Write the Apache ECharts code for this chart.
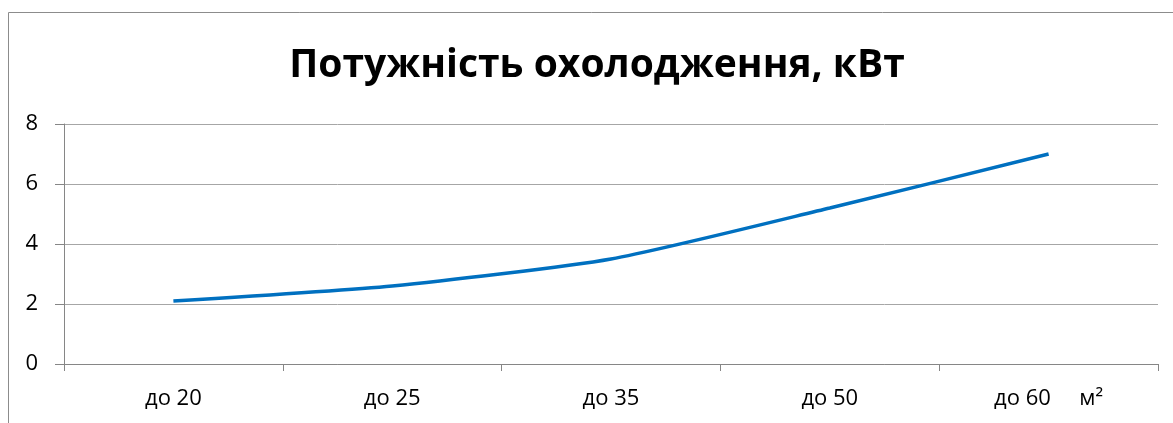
<!DOCTYPE html>
<html>
<head>
<meta charset="utf-8">
<script src="https://cdn.jsdelivr.net/npm/echarts@6/dist/echarts.min.js"></script>
<style>
  html, body { margin: 0; padding: 0; background: #fff; }
  #chart { width: 1173px; height: 423px; }
</style>
</head>
<body>
<div id="chart"></div>
<script>
// дані графіка
const categories = ['до 20', 'до 25', 'до 35', 'до 50', 'до 60'];
const power = [2.1, 2.6, 3.5, 5.2, 7.0];
const titleText = 'Потужність охолодження, кВт';
const unitText = 'м²';

const font = '"Open Sans", "Liberation Sans", sans-serif';
const chart = echarts.init(document.getElementById('chart'));

chart.setOption({
    animation: false,
    title: {
        text: titleText,
        left: 592,
        top: 41,
        textAlign: 'center',
        textStyle: { fontFamily: font, fontSize: 39, fontWeight: 'bold', color: '#000' }
    },
    graphic: [
        {
            type: 'rect',
            shape: { x: 8.5, y: 12.5, width: 1200, height: 450 },
            style: { fill: 'none', stroke: '#8c8c8c', lineWidth: 1 },
            silent: true
        }
    ],
    grid: { left: 64, right: 15, top: 124, bottom: 59 },
    xAxis: {
        type: 'category',
        data: categories,
        boundaryGap: true,
        axisLine: { lineStyle: { color: '#868686', width: 1 } },
        axisTick: { show: true, length: 7, lineStyle: { color: '#868686' } },
        axisLabel: {
            fontFamily: font, fontSize: 22, color: '#000', margin: 24,
            // одиниця виміру стоїть у підписі останньої категорії
            formatter: (v, i) => i === categories.length - 1 ? v + '     ' + unitText : v
        }
    },
    yAxis: {
        type: 'value',
        min: 0,
        max: 8,
        interval: 2,
        axisLine: { show: true, lineStyle: { color: '#868686', width: 1 } },
        axisTick: { show: true, length: 9, lineStyle: { color: '#868686' } },
        axisLabel: { fontFamily: font, fontSize: 22, color: '#000', margin: 26 },
        splitLine: { lineStyle: { color: '#a6a6a6', width: 1 } }
    },
    series: [{
        type: 'line',
        data: power,
        smooth: 0.2,
        showSymbol: false,
        lineStyle: { color: '#0070c0', width: 3.5 }
    }]
});
</script>
</body>
</html>
